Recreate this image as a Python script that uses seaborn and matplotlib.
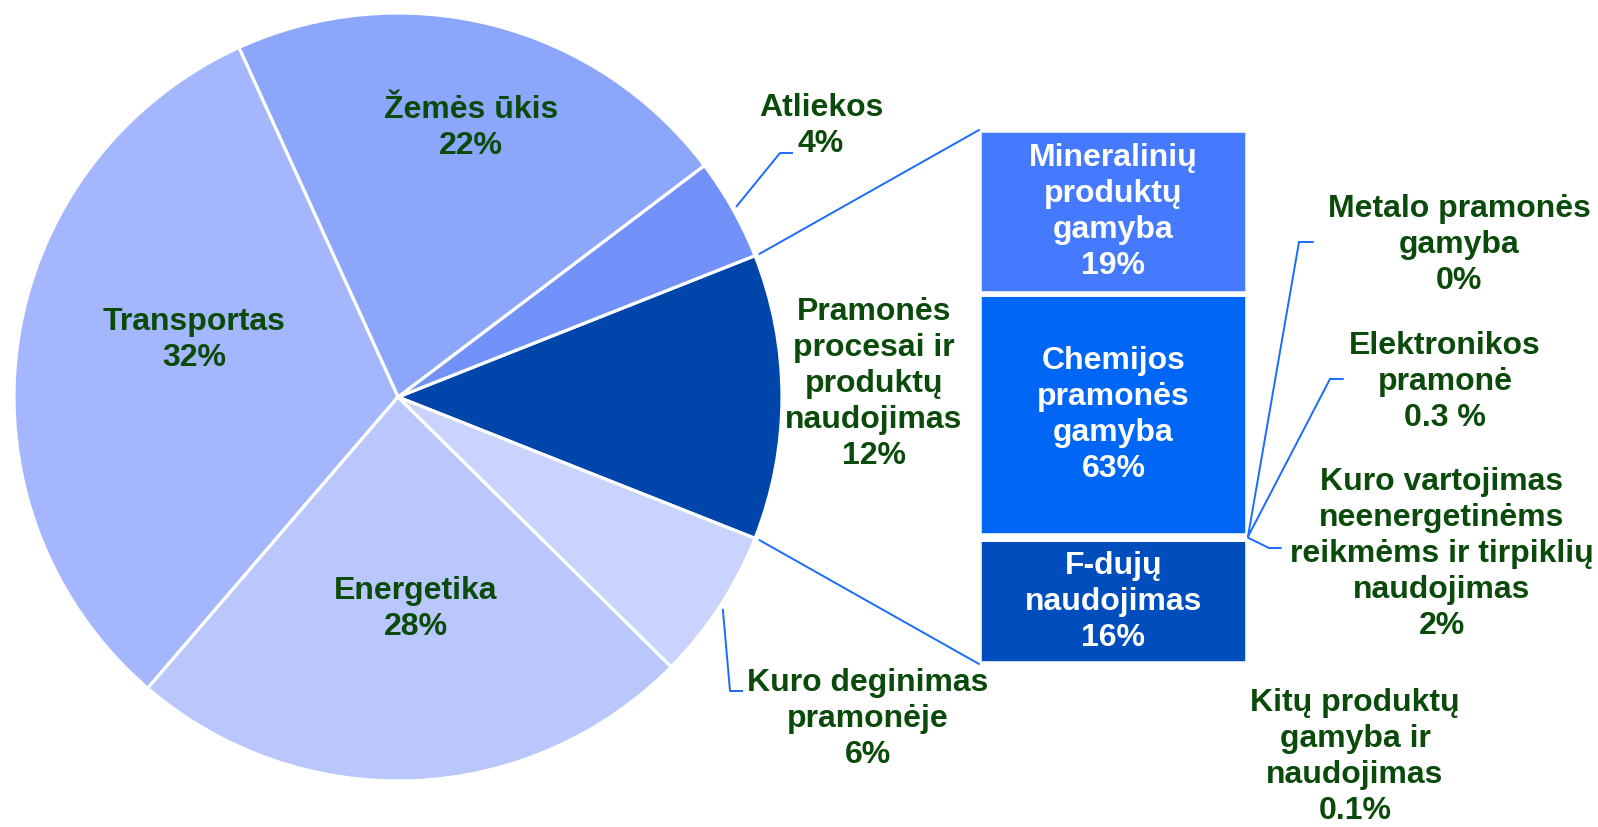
import matplotlib
matplotlib.use("Agg")
import matplotlib.pyplot as plt
from matplotlib.patches import ConnectionPatch
import numpy as np
import seaborn as sns

sns.set_theme(style="white")
plt.rcParams["font.family"] = ["Liberation Sans", "DejaVu Sans"]

W, H = 1598, 827

# Pie sectors, counterclockwise starting with the one that is split out into the bar
sectors = ["Pramonės procesai ir produktų naudojimas", "Atliekos", "Žemės ūkis",
           "Transportas", "Energetika", "Kuro deginimas pramonėje"]
sector_labels = ["Pramonės\nprocesai ir\nproduktų\nnaudojimas\n12%", "Atliekos\n4%",
                 "Žemės ūkis\n22%", "Transportas\n32%", "Energetika\n28%",
                 "Kuro deginimas\npramonėje\n6%"]
# slice sizes as drawn in the picture (the printed percentages are rounded)
sector_shares = [12.0, 4.3, 21.5, 31.9, 23.9, 6.4]
sector_colors = ["#0046AA", "#7292FA", "#8CA6FC", "#A4B6FD", "#B9C7FD", "#C9D3FD"]

# Bar: split of industrial processes, stacked bottom to top
parts = ["F-dujų naudojimas", "Kitų produktų gamyba ir naudojimas",
         "Kuro vartojimas neenergetinėms reikmėms ir tirpiklių naudojimas",
         "Elektronikos pramonė", "Metalo pramonės gamyba",
         "Chemijos pramonės gamyba", "Mineralinių produktų gamyba"]
part_labels = ["F-dujų\nnaudojimas\n16%", "Kitų produktų\ngamyba ir\nnaudojimas\n0.1%",
               "Kuro vartojimas\nneenergetinėms\nreikmėms ir tirpiklių\nnaudojimas\n2%",
               "Elektronikos\npramonė\n0.3 %", "Metalo pramonės\ngamyba\n0%",
               "Chemijos\npramonės\ngamyba\n63%", "Mineralinių\nproduktų\ngamyba\n19%"]
part_shares = [23.4, 0.1, 0.3, 0.1, 0.0, 45.3, 30.8]
part_colors = ["#004EBE", "#2F6FE8", "#2F6FE8", "#2F6FE8", "#2F6FE8", "#0066F6", "#457AFF"]

GREEN = "#0A4A0A"
LEAD = "#1A6BFF"
FS = 23
LS = 1.26
LW = 1.4

fig = plt.figure(figsize=(W / 100, H / 100), dpi=100)
ax = fig.add_axes([0, 0, 1, 1])


def up(x, y):
    # picture pixels (y down) -> axes data (y up)
    return x, H - y


cx, cy = up(398, 397)
R = 384
start = -sector_shares[0] * 3.6 / 2
ax.pie(sector_shares, colors=sector_colors, startangle=start, counterclock=True,
       center=(cx, cy), radius=R,
       wedgeprops=dict(edgecolor="white", linewidth=2.3))
ax.set_xlim(0, W)
ax.set_ylim(0, H)
ax.set_aspect("auto")
ax.axis("off")

# sector angles (degrees) for the leader lines
edges = start + np.concatenate([[0], np.cumsum(sector_shares)]) * 3.6
mids = (edges[:-1] + edges[1:]) / 2


def on_rim(angle, k=1.01):
    a = np.deg2rad(angle)
    return cx + k * R * np.cos(a), cy + k * R * np.sin(a)


label_pos = {
    "Pramonės procesai ir produktų naudojimas": (874, 384),
    "Atliekos": (821, 126),
    "Žemės ūkis": (471, 128),
    "Transportas": (194, 340),
    "Energetika": (416, 609),
    "Kuro deginimas pramonėje": (868, 719),
}
for name, lab in zip(sectors, sector_labels):
    x, y = up(*label_pos[name])
    ax.text(x, y, lab, ha="center", va="center", fontsize=FS, fontweight="bold",
            color=GREEN, linespacing=LS)

# leader lines for the two small outer sectors
elbows = {"Atliekos": [(780, 153), (793, 153)],
          "Kuro deginimas pramonėje": [(730, 691), (743, 691)]}
for name, pts in elbows.items():
    i = sectors.index(name)
    sx, sy = on_rim(mids[i])
    xs = [sx] + [up(*p)[0] for p in pts]
    ys = [sy] + [up(*p)[1] for p in pts]
    ax.plot(xs, ys, color=LEAD, lw=LW, solid_capstyle="butt")

# stacked bar
bl, bt, br, bb = 979, 130, 1248, 664
axb = fig.add_axes([bl / W, (H - bb) / H, (br - bl) / W, (bb - bt) / H])
bottoms = np.concatenate([[0], np.cumsum(part_shares)[:-1]])
axb.bar(np.zeros(len(parts)), part_shares, bottom=bottoms, width=1.0,
        color=part_colors, edgecolor="white", linewidth=4)
total = sum(part_shares)
axb.set_xlim(-0.5, 0.5)
axb.set_ylim(0, total)
axb.axis("off")

inside = ["F-dujų naudojimas", "Chemijos pramonės gamyba", "Mineralinių produktų gamyba"]
for name, lab, b, s in zip(parts, part_labels, bottoms, part_shares):
    if name in inside:
        axb.text(0, b + s / 2, lab, ha="center", va="center", fontsize=FS,
                 fontweight="bold", color="white", linespacing=LS)

outside_pos = {
    "Metalo pramonės gamyba": (1459, 245),
    "Elektronikos pramonė": (1445, 382),
    "Kuro vartojimas neenergetinėms reikmėms ir tirpiklių naudojimas": (1442, 554),
    "Kitų produktų gamyba ir naudojimas": (1355, 757),
}
out_elbows = {
    "Metalo pramonės gamyba": [(1299, 242), (1313, 242)],
    "Elektronikos pramonė": [(1330, 379), (1343, 379)],
    "Kuro vartojimas neenergetinėms reikmėms ir tirpiklių naudojimas": [(1269, 548), (1281, 548)],
}
for name, lab, b, s in zip(parts, part_labels, bottoms, part_shares):
    if name in outside_pos:
        x, y = up(*outside_pos[name])
        ax.text(x, y, lab, ha="center", va="center", fontsize=FS, fontweight="bold",
                color=GREEN, linespacing=LS)
    if name in out_elbows:
        p1, p2 = [up(*p) for p in out_elbows[name]]
        con = ConnectionPatch(xyA=(0.5, b + s / 2), coordsA=axb.transData,
                              xyB=p1, coordsB=ax.transData, color=LEAD, lw=LW)
        fig.add_artist(con)
        ax.plot([p1[0], p2[0]], [p1[1], p2[1]], color=LEAD, lw=LW)

# lines joining the split sector to the bar
for ang, corner in [(edges[0], (0, 0)), (edges[1], (0, 1))]:
    con = ConnectionPatch(xyA=on_rim(ang, 1.012), coordsA=ax.transData,
                          xyB=corner, coordsB=axb.transAxes, color=LEAD, lw=LW)
    fig.add_artist(con)

fig.savefig("out.png", dpi=100, facecolor="white")
